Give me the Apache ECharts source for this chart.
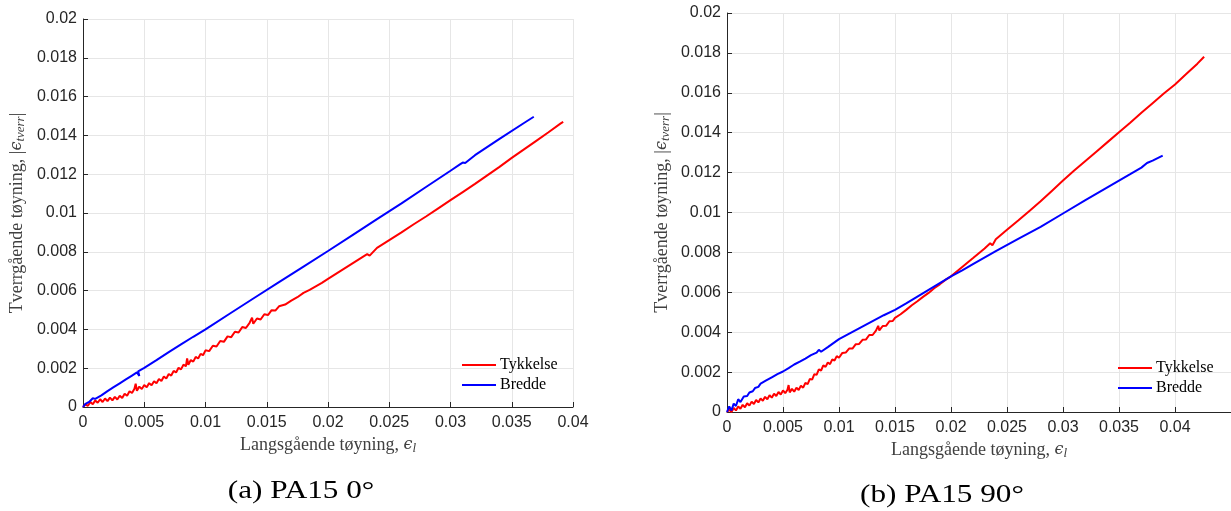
<!DOCTYPE html>
<html>
<head>
<meta charset="utf-8">
<script src="https://cdn.jsdelivr.net/npm/echarts@6/dist/echarts.min.js"></script>
<style>
  html, body { margin: 0; padding: 0; background: #ffffff; }
  #chart { width: 1231px; height: 511px; }
</style>
</head>
<body>
<div id="chart"></div>
<script>
// Series names
const seriesNames = ['Tykkelse', 'Bredde'];

// Panel captions
const captions = ['(a) PA15 0°', '(b) PA15 90°'];

// Axis scales
const yTicks = { min: 0, max: 0.02, interval: 0.002 };
const xTicksA = { min: 0, max: 0.04, interval: 0.005 };
const xTicksB = { min: 0, max: 0.045, interval: 0.005 };

// (a) PA15 0° — thickness strain [longitudinal, transverse]
const tykkelseA = [
  [0,0],[0.0002,0.00014],[0.0004,0.00006],[0.0006,0.00026],[0.0008,0.00014],[0.001,0.00034],
  [0.0012,0.00022],[0.0014,0.0004],[0.0016,0.00026],[0.0018,0.00044],[0.002,0.0003],
  [0.0022,0.00048],[0.0024,0.00034],[0.0026,0.00052],[0.0028,0.00039],[0.003,0.00058],
  [0.0032,0.00046],[0.0034,0.00068],[0.0036,0.00058],[0.0038,0.00081],[0.004,0.00072],
  [0.0042,0.00094],[0.0043,0.0012],[0.0044,0.00084],[0.0046,0.00105],[0.0048,0.00093],
  [0.005,0.00113],[0.0052,0.00102],[0.0054,0.00123],[0.0056,0.00112],[0.0058,0.00133],
  [0.006,0.00122],[0.0062,0.00144],[0.0064,0.00134],[0.0066,0.00157],[0.0068,0.00147],
  [0.007,0.0017],[0.0072,0.00162],[0.0074,0.00186],[0.0076,0.00178],[0.0078,0.00202],
  [0.008,0.00194],[0.0082,0.00218],[0.0084,0.0021],[0.0085,0.0025],[0.0086,0.00218],
  [0.0088,0.00242],[0.009,0.00234],[0.0092,0.00258],[0.0094,0.0025],[0.0096,0.00274],
  [0.0098,0.00267],[0.01,0.00292],[0.0103,0.00288],[0.0106,0.00316],[0.0109,0.00312],
  [0.0112,0.0034],[0.0115,0.00336],[0.0118,0.00364],[0.0121,0.0036],[0.0124,0.00388],
  [0.0127,0.00384],[0.013,0.00412],[0.0133,0.00407],[0.0136,0.00434],[0.0138,0.0046],
  [0.0139,0.00429],[0.0142,0.00456],[0.0145,0.00451],[0.0148,0.00478],[0.0151,0.00474],
  [0.0154,0.00499],[0.0157,0.00497],[0.016,0.00519],[0.0165,0.00528],[0.017,0.00548],
  [0.0175,0.00566],[0.018,0.00588],[0.0185,0.00604],[0.019,0.00622],[0.0195,0.0064],
  [0.02,0.0066],[0.021,0.007],[0.022,0.0074],[0.023,0.0078],[0.0232,0.00788],
  [0.0234,0.0078],[0.024,0.0082],[0.025,0.0086],[0.026,0.009],[0.027,0.00942],
  [0.028,0.00982],[0.029,0.01024],[0.03,0.01066],[0.031,0.01108],[0.032,0.0115],
  [0.033,0.01194],[0.034,0.01238],[0.035,0.01284],[0.036,0.01328],[0.037,0.01372],
  [0.038,0.01416],[0.039,0.01462],[0.0392,0.0147]
];

// (a) PA15 0° — width strain
const breddeA = [
  [0,0],[0.0002,0.00016],[0.0003,0.00008],[0.0005,0.00026],[0.0006,0.00018],[0.0008,0.00045],
  [0.001,0.00042],[0.0015,0.0006],[0.002,0.00082],[0.0025,0.00102],[0.003,0.00122],
  [0.0035,0.00142],[0.004,0.00162],[0.0044,0.00178],[0.0046,0.0016],[0.0045,0.00184],
  [0.005,0.00202],[0.006,0.00242],[0.007,0.00283],[0.008,0.00323],[0.009,0.00362],
  [0.01,0.004],[0.012,0.00482],[0.014,0.00563],[0.016,0.00644],[0.018,0.00724],
  [0.02,0.00804],[0.022,0.00886],[0.024,0.00968],[0.026,0.0105],[0.028,0.01134],
  [0.03,0.01218],[0.0308,0.01252],[0.031,0.0126],[0.0312,0.01258],[0.032,0.01298],
  [0.034,0.01382],[0.036,0.01464],[0.0368,0.01496]
];

// (b) PA15 90° — thickness strain
const tykkelseB = [
  [0,0],[0.0002,0.00012],[0.0004,0.0],[0.0006,0.0002],[0.0008,0.00008],[0.001,0.00028],
  [0.0012,0.00016],[0.0014,0.00036],[0.0016,0.00024],[0.0018,0.00044],[0.002,0.00032],
  [0.0022,0.00052],[0.0024,0.0004],[0.0026,0.0006],[0.0028,0.00048],[0.003,0.00068],
  [0.0032,0.00056],[0.0034,0.00076],[0.0036,0.00064],[0.0038,0.00084],[0.004,0.00072],
  [0.0042,0.00092],[0.0044,0.0008],[0.0046,0.001],[0.0048,0.00088],[0.005,0.00108],
  [0.0052,0.00094],[0.0054,0.00112],[0.0055,0.00135],[0.0056,0.00098],[0.0058,0.00116],
  [0.006,0.00102],[0.0062,0.00122],[0.0064,0.0011],[0.0066,0.00132],[0.0068,0.00122],
  [0.007,0.00146],[0.0072,0.0014],[0.0074,0.00166],[0.0076,0.00162],[0.0078,0.0019],
  [0.008,0.00186],[0.0082,0.00214],[0.0084,0.00208],[0.0086,0.00234],[0.0088,0.00226],
  [0.009,0.00248],[0.0092,0.0024],[0.0094,0.00264],[0.0096,0.00258],[0.0098,0.0028],
  [0.01,0.00272],[0.0103,0.00296],[0.0106,0.00298],[0.0109,0.00318],[0.0112,0.00318],
  [0.0115,0.0034],[0.0118,0.00341],[0.0121,0.00362],[0.0124,0.00363],[0.0127,0.00386],
  [0.013,0.00386],[0.0133,0.00408],[0.0135,0.00432],[0.0136,0.00409],[0.0139,0.00431],
  [0.0142,0.00432],[0.0145,0.00455],[0.0148,0.00456],[0.015,0.00472],[0.0155,0.0049],
  [0.016,0.00512],[0.0165,0.00535],[0.017,0.00555],[0.0175,0.00577],[0.018,0.00597],
  [0.0185,0.0062],[0.019,0.0064],[0.0195,0.00662],[0.02,0.0068],[0.021,0.00727],
  [0.022,0.00773],[0.023,0.0082],[0.0235,0.00846],[0.0237,0.00836],[0.024,0.00866],
  [0.025,0.00913],[0.026,0.0096],[0.027,0.01008],[0.028,0.01056],[0.029,0.01108],
  [0.03,0.0116],[0.031,0.0121],[0.032,0.01258],[0.033,0.01306],[0.034,0.01354],
  [0.035,0.01402],[0.036,0.0145],[0.037,0.015],[0.038,0.01548],[0.039,0.01596],
  [0.04,0.01642],[0.041,0.01694],[0.042,0.01746],[0.0426,0.01781]
];

// (b) PA15 90° — width strain
const breddeB = [
  [0,0],[0.0002,0.00028],[0.0004,0.00008],[0.0006,0.00042],[0.0008,0.0003],[0.001,0.00064],
  [0.0012,0.0005],[0.0015,0.00078],[0.0018,0.0008],[0.002,0.00098],[0.0023,0.00104],
  [0.0025,0.0012],[0.0028,0.00126],[0.003,0.00142],[0.0035,0.00158],[0.004,0.00174],
  [0.0045,0.0019],[0.005,0.00203],[0.0055,0.0022],[0.006,0.00238],[0.0065,0.00252],
  [0.007,0.00268],[0.0075,0.00285],[0.008,0.00298],[0.0082,0.00312],[0.0084,0.00302],
  [0.009,0.00325],[0.01,0.00365],[0.011,0.00395],[0.012,0.00425],[0.013,0.00455],
  [0.014,0.00485],[0.015,0.00512],[0.016,0.00544],[0.017,0.00578],[0.018,0.00612],
  [0.019,0.00646],[0.02,0.0068],[0.021,0.0071],[0.022,0.00742],[0.024,0.00806],
  [0.026,0.00868],[0.028,0.00928],[0.03,0.00995],[0.032,0.01062],[0.034,0.01127],
  [0.036,0.01192],[0.037,0.01225],[0.0375,0.01248],[0.038,0.0126],[0.0389,0.01285]
];

const INK = '#262626';
const GRID = '#e6e6e6';
const NAME_INK = '#404040';
const SERIF = '"Liberation Serif", "DejaVu Serif", serif';
const SANS = '"Liberation Sans", Arial, sans-serif';

// rich-text styles for the ϵ symbol and its subscript in the axis names
const nameRich = {
  e: { fontFamily: '"DejaVu Serif", serif', fontStyle: 'italic', fontSize: 16, color: NAME_INK },
  s: { fontFamily: SERIF, fontStyle: 'italic', fontSize: 13, color: NAME_INK, padding: [7, 0, 0, 0] }
};

function fmt(v) { return String(+v.toFixed(4)); }

function xAxis(gridIndex, ticks, gap, hideMax) {
  return {
    type: 'value', gridIndex,
    min: ticks.min, max: ticks.max, interval: ticks.interval,
    name: 'Langsgående tøyning, {e|ϵ}{s|l}',
    nameLocation: 'middle', nameGap: gap,
    nameTextStyle: { fontFamily: SERIF, fontSize: 18, color: NAME_INK, rich: nameRich },
    axisLine: { show: true, onZero: false, lineStyle: { color: INK, width: 1 } },
    axisTick: { show: true, inside: true, length: 5, lineStyle: { color: INK } },
    axisLabel: { color: INK, fontFamily: SANS, fontSize: 16, margin: 8, formatter: fmt,
                 showMaxLabel: !hideMax },
    splitLine: { show: true, lineStyle: { color: GRID, width: 1 } }
  };
}

function yAxis(gridIndex, gap) {
  return {
    type: 'value', gridIndex,
    min: yTicks.min, max: yTicks.max, interval: yTicks.interval,
    name: 'Tverrgående tøyning, |{e|ϵ}{s|tverr}|',
    nameLocation: 'middle', nameGap: gap,
    nameTextStyle: { fontFamily: SERIF, fontSize: 18, color: NAME_INK, rich: nameRich },
    axisLine: { show: true, onZero: false, lineStyle: { color: INK, width: 1 } },
    axisTick: { show: true, inside: true, length: 5, lineStyle: { color: INK } },
    axisLabel: { color: INK, fontFamily: SANS, fontSize: 16, margin: 6, formatter: fmt },
    splitLine: { show: true, lineStyle: { color: GRID, width: 1 } }
  };
}

function lineSeries(name, data, color, idx) {
  return {
    type: 'line', name, data,
    xAxisIndex: idx, yAxisIndex: idx,
    showSymbol: false, symbol: 'none', smooth: false,
    lineStyle: { color, width: 2 },
    itemStyle: { color },
    clip: true
  };
}

function legend(left, top) {
  return {
    data: seriesNames, orient: 'vertical', left, top,
    padding: 0, itemGap: 0, itemWidth: 34, itemHeight: 2, icon: 'rect',
    selectedMode: false,
    textStyle: { fontFamily: SERIF, fontSize: 16, color: '#000', lineHeight: 20, padding: [0, 0, 0, -1] }
  };
}

const chart = echarts.init(document.getElementById('chart'), null, { renderer: 'canvas' });
chart.setOption({
  animation: false,
  backgroundColor: '#ffffff',
  grid: [
    { left: 83, top: 19, width: 490, height: 388, containLabel: false },
    { left: 727, top: 13, width: 505, height: 399, containLabel: false }
  ],
  xAxis: [xAxis(0, xTicksA, 27, false), xAxis(1, xTicksB, 26, true)],
  yAxis: [yAxis(0, 56), yAxis(1, 55)],
  legend: [legend(462, 355), legend(1118, 358)],
  series: [
    lineSeries(seriesNames[0], tykkelseA, '#ff0000', 0),
    lineSeries(seriesNames[1], breddeA, '#0000ff', 0),
    lineSeries(seriesNames[0], tykkelseB, '#ff0000', 1),
    lineSeries(seriesNames[1], breddeB, '#0000ff', 1)
  ],
  graphic: [
    { type: 'text', x: 301, y: 491, scaleX: 1.2,
      style: { text: captions[0], font: '26px ' + SERIF, fill: '#000', align: 'center', verticalAlign: 'middle' } },
    { type: 'text', x: 942, y: 495, scaleX: 1.2,
      style: { text: captions[1], font: '26px ' + SERIF, fill: '#000', align: 'center', verticalAlign: 'middle' } }
  ]
});
</script>
</body>
</html>
